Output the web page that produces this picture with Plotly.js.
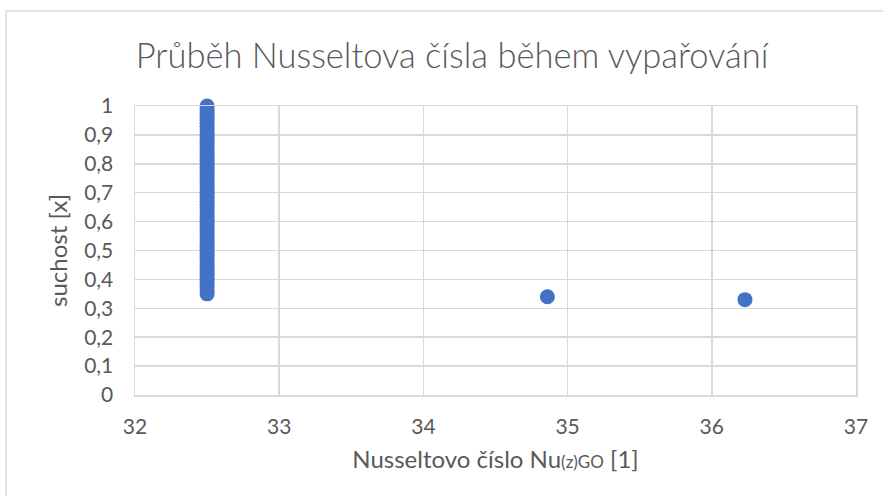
<!DOCTYPE html>
<html>
<head>
<meta charset="utf-8">
<script src="https://cdn.plot.ly/plotly-3.0.1.min.js"></script>
<style>
html,body{margin:0;padding:0;background:#fff;}
#chart{width:883px;height:496px;}
</style>
</head>
<body>
<div id="chart"></div>
<script>
// Data
var chartTitle = "Průběh Nusseltova čísla během vypařování";
var xTitle = "Nusseltovo číslo Nu<span style=\"font-size:17px\">(z)GO</span> [1]";
var yTitle = "suchost [x]";

// cluster of points at Nu ≈ 32.5 (dryness from 1.00 down to 0.35)
var nuCluster = [32.5,32.5,32.5,32.5,32.5,32.5,32.5,32.5,32.5,32.5,32.5,32.5,32.5,32.5,32.5,32.5,32.5,32.5,32.5,32.5,32.5,32.5,32.5,32.5,32.5,32.5,32.5,32.5,32.5,32.5,32.5,32.5,32.5,32.5,32.5,32.5,32.5,32.5,32.5,32.5,32.5,32.5,32.5,32.5,32.5,32.5,32.5,32.5,32.5,32.5,32.5,32.5,32.5,32.5,32.5,32.5,32.5,32.5,32.5,32.5,32.5,32.5,32.5,32.5,32.5,32.5];
var xCluster = [1.00,0.99,0.98,0.97,0.96,0.95,0.94,0.93,0.92,0.91,0.90,0.89,0.88,0.87,0.86,0.85,0.84,0.83,0.82,0.81,0.80,0.79,0.78,0.77,0.76,0.75,0.74,0.73,0.72,0.71,0.70,0.69,0.68,0.67,0.66,0.65,0.64,0.63,0.62,0.61,0.60,0.59,0.58,0.57,0.56,0.55,0.54,0.53,0.52,0.51,0.50,0.49,0.48,0.47,0.46,0.45,0.44,0.43,0.42,0.41,0.40,0.39,0.38,0.37,0.36,0.35];
// separate points
var nuOther = [34.86, 36.23];
var xOther = [0.34, 0.33];

var xTickVals = [32, 33, 34, 35, 36, 37];
var yTickVals = [0, 0.1, 0.2, 0.3, 0.4, 0.5, 0.6, 0.7, 0.8, 0.9, 1];

var FONT = "Lato, 'Open Sans', sans-serif";
var TXT = "#595959";
var GRID = "#d9d9d9";
var BLUE = "#4472C4";

var traces = [{
  type: "scatter", mode: "markers",
  x: nuCluster.concat(nuOther), y: xCluster.concat(xOther),
  marker: {color: BLUE, size: 15, line: {width: 0}},
  cliponaxis: false,
  hoverinfo: "x+y", showlegend: false
}];

var layout = {
  width: 883, height: 496,
  margin: {l: 135, r: 27, t: 106, b: 101, pad: 0},
  paper_bgcolor: "#ffffff", plot_bgcolor: "#ffffff",
  separators: ", ",
  font: {family: FONT, color: TXT, size: 21},
  showlegend: false,
  title: {text: chartTitle, font: {family: FONT, size: 34.5, color: TXT, weight: 300},
          x: 0.512, xanchor: "center", y: 0.888, yanchor: "middle"},
  xaxis: {
    range: [32, 37], tickvals: xTickVals, ticks: "",
    showgrid: true, gridcolor: GRID, gridwidth: 1.5,
    showline: true, linecolor: GRID, linewidth: 1.5, mirror: true,
    zeroline: false, tickfont: {size: 21, color: TXT, family: FONT},
    ticklabelstandoff: 12,
    title: {text: xTitle, font: {size: 24, color: TXT, family: FONT}, standoff: 14}
  },
  yaxis: {
    range: [0, 1], tickvals: yTickVals, ticks: "",
    showgrid: true, gridcolor: GRID, gridwidth: 1.5,
    showline: true, linecolor: GRID, linewidth: 1.5, mirror: true,
    zeroline: false, tickfont: {size: 21, color: TXT, family: FONT},
    ticklabelstandoff: 16,
    title: {text: yTitle, font: {size: 24, color: TXT, family: FONT}, standoff: 10}
  },
  shapes: [{
    type: "rect", xref: "paper", yref: "paper", layer: "below",
    x0: (6 - 135) / 721, x1: (900 - 135) / 721,
    y0: (395 - 520) / 289, y1: (395 - 11) / 289,
    line: {color: GRID, width: 1.5}, fillcolor: "rgba(0,0,0,0)"
  }]
};

Plotly.newPlot("chart", traces, layout, {displayModeBar: false, staticPlot: true});
</script>
</body>
</html>
